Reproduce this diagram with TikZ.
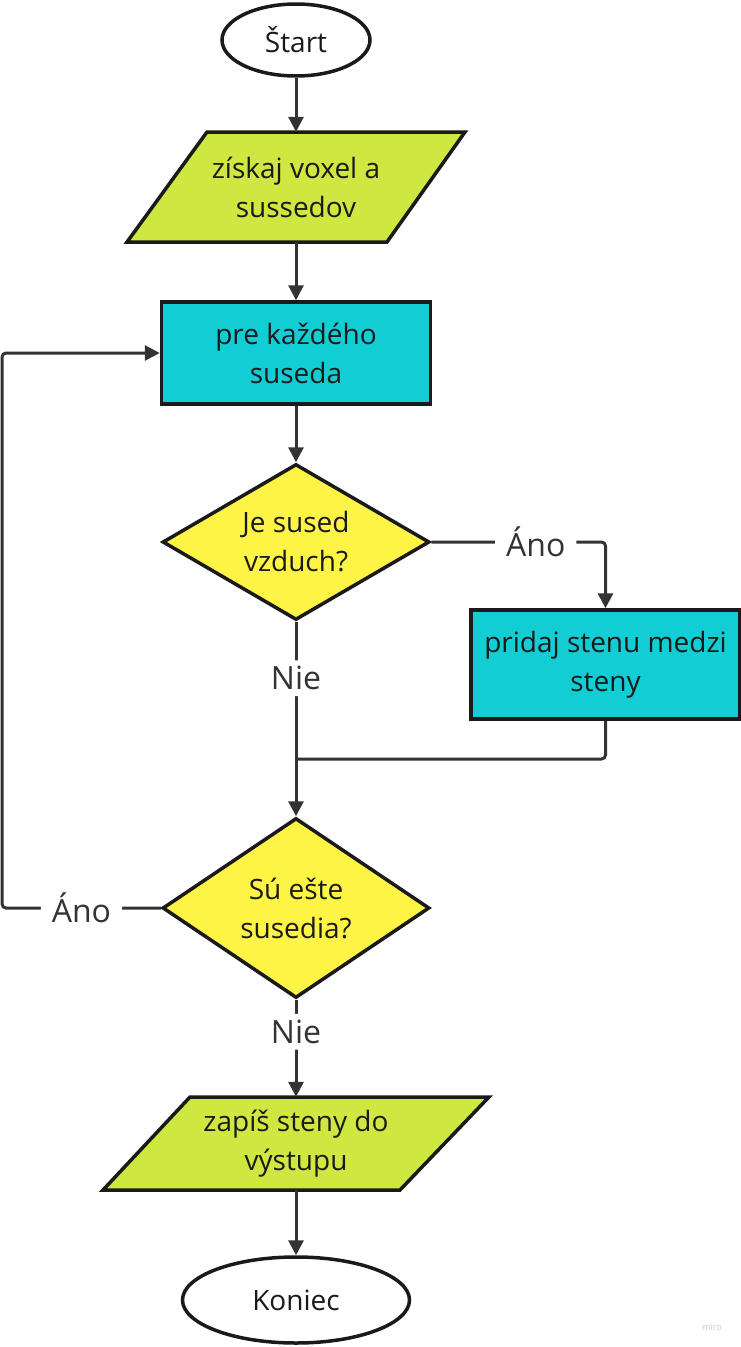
\documentclass[tikz,border=0pt]{standalone}
\usepackage{fontspec}
\setmainfont{Open Sans}
\usetikzlibrary{shapes.geometric,arrows.meta}
\definecolor{limebox}{HTML}{CEE741}
\definecolor{cyanbox}{HTML}{12CDD4}
\definecolor{yelbox}{HTML}{FEF445}
\definecolor{outl}{HTML}{1A1A1A}
\definecolor{connc}{HTML}{333333}
\definecolor{wmc}{HTML}{C8C8D2}
\newcommand{\boxfnt}{\fontsize{28}{39}\selectfont}
\newcommand{\lblfnt}{\fontsize{32}{38}\selectfont}
\begin{document}
\begin{tikzpicture}[x=1pt,y=-1pt,
  box/.style={draw=outl,line width=3.5pt,text=outl,font=\boxfnt,align=center,inner sep=0pt},
  txt/.style={text=outl,font=\boxfnt,align=center,inner sep=0pt},
  term/.style={box,ellipse,fill=white},
  proc/.style={box,rectangle,fill=cyanbox},
  dec/.style={box,diamond,fill=yelbox},
  io/.style={fill=limebox,draw=outl,line width=3.5pt,line join=miter},
  conn/.style={draw=connc,line width=3pt,rounded corners=4pt,-{Triangle[length=15pt,width=15pt]}},
  plain/.style={draw=connc,line width=3pt,rounded corners=4pt},
  lbl/.style={fill=white,text=connc,font=\lblfnt,inner xsep=11pt,inner ysep=6pt}]
\useasboundingbox (0,0) rectangle (741,1347);

% parallelogram outlines
\path[io] (207,132) -- (465,132) -- (387,242) -- (127,242) -- cycle;
\path[io] (190,1097) -- (489,1097) -- (400,1190) -- (103,1190) -- cycle;

% nodes
\node[term,minimum width=148pt,minimum height=72pt] (start) at (296,40) {Štart};
\node[txt,minimum width=250pt,minimum height=110pt] (p1) at (296,187) {získaj voxel a\\sussedov};
\node[proc,minimum width=269pt,minimum height=102pt] (r1) at (296,353) {pre každého\\suseda};
\node[dec,shape aspect=1.71,minimum width=267pt,minimum height=156pt] (d1) at (296,542) {Je sused\\vzduch?};
\node[proc,minimum width=269pt,minimum height=109pt] (r2) at (605.5,664.5) {pridaj stenu medzi\\steny};
\node[dec,shape aspect=1.48,minimum width=267pt,minimum height=180pt] (d2) at (296,908) {Sú ešte\\susedia?};
\node[txt,minimum width=280pt,minimum height=93pt] (p2) at (296,1143.5) {zapíš steny do\\výstupu};
\node[term,minimum width=227pt,minimum height=86pt] (end) at (296,1300) {Koniec};
\node[text=wmc,font=\fontsize{9}{10}\selectfont,inner sep=0pt] (wm) at (712,1327) {miro};

\coordinate (j) at (296,759);
\coordinate (lc) at (2,908);

% connectors
\draw[conn] (start.south) -- (p1.north);
\draw[conn] (p1.south) -- (r1.north);
\draw[conn] (r1.south) -- (d1.north);
\draw[conn] (d1.east) -| node[lbl,pos=0.3]{Áno} (r2.north);
\draw[conn] (d1.south) -- node[lbl,pos=0.29]{Nie} (d2.north);
\draw[plain] (r2.south) |- (j);
\draw[conn] (d2.west) -- node[lbl]{Áno} (lc) |- (r1.west);
\draw[conn] (d2.south) -- node[lbl,pos=0.33]{Nie} (p2.north);
\draw[conn] (p2.south) -- (end.north);
\end{tikzpicture}
\end{document}
